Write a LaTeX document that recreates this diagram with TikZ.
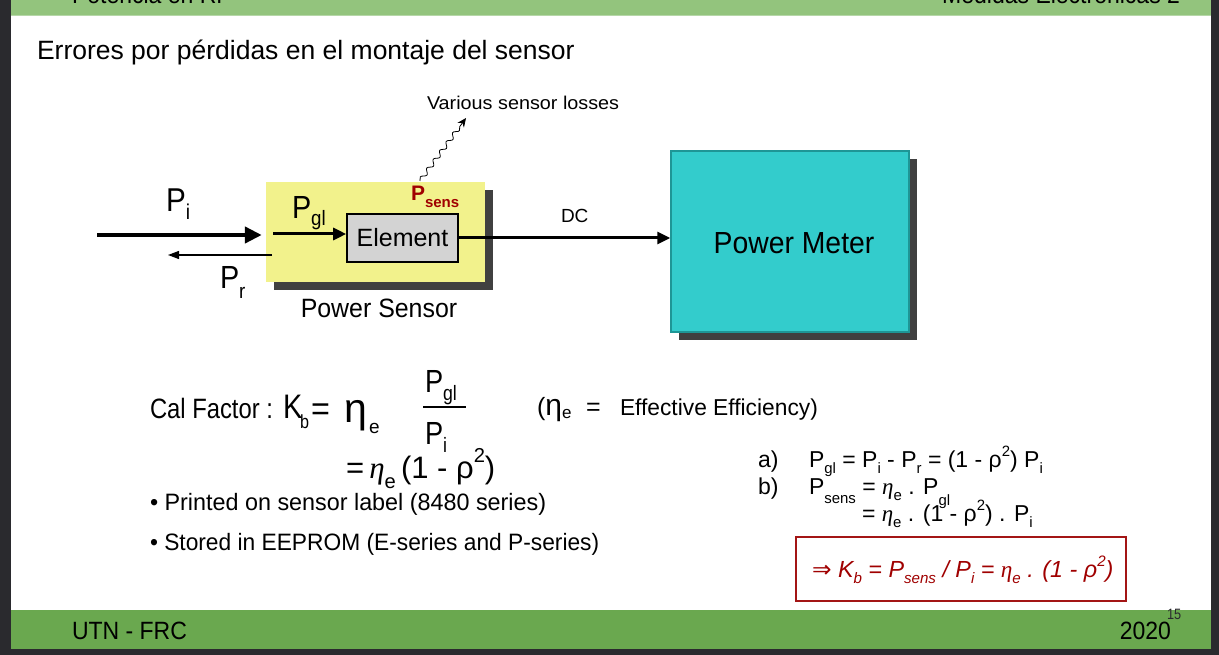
\documentclass[tikz,border=0pt]{standalone}
\usepackage{fontspec}
\usepackage{graphicx}
\setmainfont{Liberation Sans}
\newfontfamily\serifit{Liberation Serif}
\newfontfamily\arrowfont{DejaVu Sans}
\usetikzlibrary{arrows.meta,decorations.pathmorphing,shadows}

\definecolor{frame}{HTML}{2A2A2E}
\definecolor{topgreen}{HTML}{93C47D}
\definecolor{topline}{HTML}{B6D7A8}
\definecolor{botgreen}{HTML}{6AA84F}
\definecolor{sensoryellow}{HTML}{F2F28C}
\definecolor{shadowgray}{HTML}{404040}
\definecolor{elemgray}{HTML}{D3D3D3}
\definecolor{meterteal}{HTML}{33CCCC}
\definecolor{meteredge}{HTML}{1E9696}
\definecolor{darkred}{HTML}{A00000}
\definecolor{boxred}{HTML}{A31515}

% font size in px-like points
\newcommand\fs[1]{\fontsize{#1}{#1}\selectfont}
% lowered / raised small text
\newcommand\sbs[2][0.25em]{\raisebox{-#1}{\scalebox{0.65}{#2}}}
\newcommand\sps[2][0.45em]{\raisebox{#1}{\scalebox{0.65}{#2}}}
\newcommand\sx[2]{\scalebox{#1}[1]{#2}}
\newcommand\etai{{\serifit\itshape η}}

\tikzset{
  txt/.style={inner sep=0pt, outer sep=0pt},
  lbl/.style={txt, anchor=base west},
  shadowed/.style={drop shadow={shadow xshift=8pt, shadow yshift=-8pt, fill=shadowgray, opacity=1}},
  sensorbox/.style={fill=sensoryellow, minimum width=219pt, minimum height=100pt, inner sep=0pt, shadowed},
  elembox/.style={draw=black, line width=1.6pt, fill=elemgray, minimum width=111pt, minimum height=48pt, inner sep=0pt},
  meterbox/.style={draw=meteredge, line width=1.5pt, fill=meterteal, minimum width=238pt, minimum height=181pt, inner sep=0pt, shadowed},
  bigarrow/.style={line width=4.5pt, -{Triangle[length=17pt,width=16pt]}},
  midarrow/.style={line width=3pt, -{Triangle[length=13pt,width=12pt]}},
  thinarrow/.style={line width=1.2pt, -{Triangle[length=11pt,width=8pt]}},
  redbox/.style={draw=boxred, line width=1.8pt, minimum width=330pt, minimum height=64pt, inner sep=0pt},
}

\begin{document}
\begin{tikzpicture}[x=1pt,y=-1pt]
\useasboundingbox (0,0) rectangle (1219,655);
\clip (0,0) rectangle (1219,655);

% slide frame and bars
\fill[frame] (0,0) rectangle (1219,655);
\fill[white] (11,0) rectangle (1211,610);
\fill[topgreen] (11,0) rectangle (1211,15);
\fill[topline] (11,15) rectangle (1211,16.5);
\fill[botgreen] (11,610) rectangle (1211,648.5);

% header (partly above the slide edge)
\node[lbl] (hdl) at (72,4) {\fs{25}\sx{0.92}{Potencia en RF}};
\node[txt, anchor=base east] (hdr) at (1180,4) {\fs{25}\sx{0.92}{Medidas Electrónicas 2}};

% title
\node[lbl] (title) at (37,60) {\fs{26.5}Errores por pérdidas en el montaje del sensor};

% power sensor block
\node[sensorbox] (sensor) at (375.5,232) {};
\node[elembox] (element) at (402.5,238) {\fs{25}Element};
\node[txt, anchor=base] (senslbl) at (379,317) {\fs{26.5}\sx{0.94}{Power Sensor}};
\node[lbl, text=darkred] (psens) at (411,201) {\fs{21}\bfseries P\sbs[0.3em]{\scalebox{1.1}{sens}}};

% power meter block
\node[meterbox] (meter) at (790,241.5) {};
\node[txt] (meterlbl) at (794,243) {\fs{30.5}\sx{0.93}{Power Meter}};

% incident, reflected and absorbed power
\coordinate (pin) at (97,235);
\draw[bigarrow] (pin) -- ([xshift=-4pt]pin -| sensor.west);
\node[lbl] (pi) at (166,212) {\fs{33}\sx{0.9}{P\sbs[0.22em]{i}}};

\coordinate (pgstart) at (273,234);
\draw[midarrow] (pgstart) -- (pgstart -| element.west);
\node[lbl] (pgl) at (292,219) {\fs{32}\sx{0.9}{P\sbs[0.2em]{gl}}};

\coordinate (prstart) at (272,255);
\coordinate (prend) at (168,255);
\draw[thinarrow] (prstart) -- (prend);
\node[lbl] (pr) at (220,289) {\fs{32}\sx{0.9}{P\sbs[0.3em]{r}}};

% DC output to the meter
\draw[midarrow] (element.east) -- (element.east -| meter.west);
\node[lbl] (dc) at (561,223) {\fs{19}DC};

% losses leaving the sensor
\coordinate (lossstart) at (420,181);
\coordinate (lossend) at (466,118);
\draw[line width=0.8pt, decorate, decoration={snake, amplitude=2.2pt, segment length=11pt, post length=9pt},
      -{Stealth[length=9pt,width=8pt]}] (lossstart) -- (lossend);
\node[lbl] (losses) at (427,110) {\fs{18.5}\sx{1.07}{Various sensor losses}};

% calibration factor
\node[lbl] (calf) at (150,418) {\fs{28}\sx{0.85}{Cal Factor :}};
\node[lbl] (kb) at (283,418) {\fs{34}\sx{0.85}{K}};
\node[lbl] (kbsub) at (300,428) {\fs{19}\sx{0.85}{b}};
\node[lbl] (kbeq) at (311,420) {\fs{34}\sx{0.95}{=}};
\node[lbl] (eta1) at (344,422) {\fs{41}η};
\node[lbl] (eta1sub) at (369,433) {\fs{19}e};
\node[lbl] (fnum) at (425,392) {\fs{32}\sx{0.85}{P\sbs[0.25em]{gl}}};
\node[lbl] (fden) at (425,444) {\fs{32}\sx{0.85}{P\sbs[0.28em]{i}}};
\draw[line width=2.5pt] (423,407) -- (466,407);

\node[lbl] (effeta) at (537,415) {\fs{25}(\fontsize{30}{30}\selectfont η\raisebox{-0.12em}{\fs{17}e}};
\node[lbl] (effeq) at (586,415) {\fs{25}=};
\node[lbl] (efftxt) at (620,415) {\fs{23}\sx{0.99}{Effective Efficiency)}};

\node[lbl] (kbalt) at (346,478) {\fs{31}=\,\etai\sbs[0.35em]{e}\,(1 - ρ\sps[0.5em]{2})};

\node[lbl] (b1) at (150,510) {\fs{23.7}\sx{0.985}{• Printed on sensor label (8480 series)}};
\node[lbl] (b2) at (150,550) {\fs{23.7}\sx{0.96}{• Stored in EEPROM (E-series and P-series)}};

% derivation
\node[lbl] (la) at (758,467) {\fs{23}a)};
\node[lbl] (ea) at (809,467) {\fs{23}P\sbs[0.3em]{gl} = P\sbs[0.3em]{i} - P\sbs[0.3em]{r} = (1 - ρ\sps{2}) P\sbs[0.3em]{i}};
\node[lbl] (lb) at (758,494) {\fs{23}b)};
\node[lbl] (eb) at (809,494) {\fs{23}P\sbs[0.4em]{sens} = \etai\sbs[0.3em]{e} . P\sbs[0.5em]{gl}};
\node[lbl] (ec) at (862,521) {\fs{23}= \etai\sbs[0.3em]{e} . (1 - ρ\sps{2}) . P\sbs[0.3em]{i}};

\node[redbox] (result) at (961,569) {};
\node[lbl, text=darkred] (kres) at (812,577) {\fs{23.3}\itshape{\arrowfont\upshape ⇒} K\sbs[0.3em]{b} = P\sbs[0.3em]{sens} / P\sbs[0.3em]{i} = \etai\sbs[0.3em]{e} . (1 - ρ\sps{2})};

% footer
\node[lbl] (ftl) at (72,639) {\fs{25}\sx{0.92}{UTN - FRC}};
\node[txt, anchor=base east] (ftr) at (1171,639) {\fs{25}\sx{0.92}{2020}};
\node[lbl, text=frame] (pg) at (1167,619) {\fs{15}\sx{0.85}{15}};
\end{tikzpicture}
\end{document}
